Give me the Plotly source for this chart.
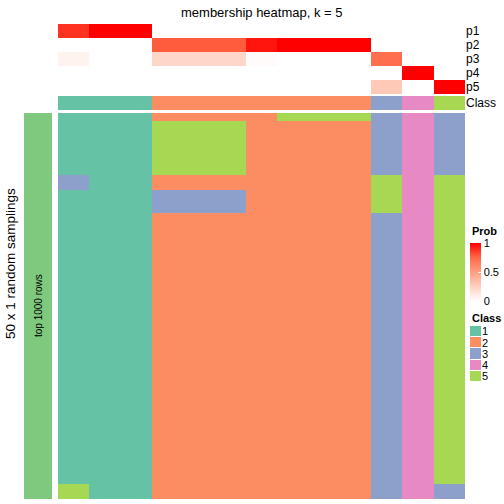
import plotly.graph_objects as go

W = H = 504

# ---------------- data ----------------
columns = [f"s{i}" for i in range(1, 14)]
prob_rows = ["p1", "p2", "p3", "p4", "p5"]
p1 = [0.88, 1, 1, 0, 0, 0, 0, 0, 0, 0, 0, 0, 0]
p2 = [0, 0, 0, 0.78, 0.78, 0.78, 0.95, 1, 1, 1, 0, 0, 0]
p3 = [0.06, 0, 0, 0.21, 0.21, 0.21, 0.02, 0, 0, 0, 0.72, 0, 0]
p4 = [0, 0, 0, 0, 0, 0, 0, 0, 0, 0, 0, 1, 0]
p5 = [0, 0, 0, 0, 0, 0, 0, 0, 0, 0, 0.28, 0, 1]
class_row = [1, 1, 1, 2, 2, 2, 2, 2, 2, 2, 3, 4, 5]

# membership per sampling (50 rows x 13 columns), rows top to bottom
n_rows = 50
sampling_rows = []
for r in range(1, n_rows + 1):
    row = list(class_row)
    row[10] = 3
    row[12] = 5
    if r == 1:
        row[7] = row[8] = row[9] = 5
    if 2 <= r <= 8:
        row[3] = row[4] = row[5] = 5
    if r <= 8:
        row[12] = 3
    if r in (9, 10):
        row[0] = 3
    if 11 <= r <= 13:
        row[3] = row[4] = row[5] = 3
    if 9 <= r <= 13:
        row[10] = 5
    if r >= 49:
        row[0] = 5
        row[12] = 3
    sampling_rows.append(row)

class_labels = ["1", "2", "3", "4", "5"]
class_colors = ["#66C2A5", "#FC8D62", "#8DA0CB", "#E78AC3", "#A6D854"]
prob_ticks = [0, 0.5, 1]

# ---------------- helpers ----------------
def px_x(v):
    return v / W

def px_y(v):
    return 1 - v / H

def discrete_scale(colors):
    n = len(colors)
    sc = []
    for i, c in enumerate(colors):
        sc.append([i / n, c])
        sc.append([(i + 1) / n, c])
    return sc

class_scale = discrete_scale(class_colors)
prob_scale = [[0, "#FFFFFF"], [0.25, "#FFCFBF"], [0.5, "#FF9E81"],
              [0.75, "#FF6846"], [1, "#FF0000"]]

x0, x1 = px_x(58), px_x(465)

fig = go.Figure()

# top probability heatmap
fig.add_trace(go.Heatmap(
    z=[p1, p2, p3, p4, p5], x=columns, y=prob_rows,
    colorscale=prob_scale, zmin=0, zmax=1,
    xaxis="x", yaxis="y",
    colorbar=dict(
        x=px_x(470), xanchor="left", y=px_y(301), yanchor="bottom",
        lenmode="pixels", len=58, thickness=11, thicknessmode="pixels",
        outlinewidth=0, tickvals=prob_ticks, ticktext=["0", "0.5", "1"],
        ticks="inside", ticklen=3, tickcolor="white",
        tickfont=dict(size=11, color="black"), xpad=0, ypad=0),
    hoverinfo="skip"))

# class row
fig.add_trace(go.Heatmap(
    z=[class_row], x=columns, y=["Class"],
    colorscale=class_scale, zmin=0.5, zmax=5.5, showscale=False,
    xaxis="x2", yaxis="y2", hoverinfo="skip"))

# main membership heatmap
fig.add_trace(go.Heatmap(
    z=sampling_rows, x=columns, y=list(range(1, n_rows + 1)),
    colorscale=class_scale, zmin=0.5, zmax=5.5, showscale=False,
    xaxis="x3", yaxis="y3", hoverinfo="skip"))

# left split bar
fig.add_trace(go.Heatmap(
    z=[[1]], x=["top"], y=["top 1000 rows"],
    colorscale=[[0, "#7FC97F"], [1, "#7FC97F"]], showscale=False,
    xaxis="x4", yaxis="y4", hoverinfo="skip"))

# class legend swatches
fig.add_trace(go.Heatmap(
    z=[[1], [2], [3], [4], [5]], x=["c"], y=class_labels,
    colorscale=class_scale, zmin=0.5, zmax=5.5, showscale=False,
    ygap=1, xaxis="x5", yaxis="y5", hoverinfo="skip"))

hidden = dict(showgrid=False, zeroline=False, showticklabels=False, ticks="",
              showline=False, fixedrange=True)

def right_labels(vals, size=12):
    return dict(showgrid=False, zeroline=False, ticks="", showline=False,
                side="right", tickmode="array", tickvals=vals, ticktext=vals,
                tickfont=dict(size=size, color="black"))

fig.update_layout(
    width=W, height=H, margin=dict(l=0, r=0, t=0, b=0, autoexpand=False),
    plot_bgcolor="white", paper_bgcolor="white", showlegend=False,
    font=dict(family="Liberation Sans, Arial, sans-serif", color="black"),
    xaxis=dict(domain=[x0, x1], anchor="y", **hidden),
    yaxis=dict(domain=[px_y(94), px_y(24)], anchor="x", autorange="reversed",
               **right_labels(prob_rows)),
    xaxis2=dict(domain=[x0, x1], anchor="y2", **hidden),
    yaxis2=dict(domain=[px_y(110), px_y(96)], anchor="x2",
                **right_labels(["Class"])),
    xaxis3=dict(domain=[x0, x1], anchor="y3", **hidden),
    yaxis3=dict(domain=[px_y(499), px_y(113)], anchor="x3", autorange="reversed",
                **hidden),
    xaxis4=dict(domain=[px_x(24), px_x(52)], anchor="y4", **hidden),
    yaxis4=dict(domain=[px_y(499), px_y(113)], anchor="x4", **hidden),
    xaxis5=dict(domain=[px_x(470), px_x(481)], anchor="y5", **hidden),
    yaxis5=dict(domain=[px_y(382), px_y(326)], anchor="x5", autorange="reversed",
                **right_labels(class_labels, 11)),
    annotations=[
        dict(text="membership heatmap, k = 5", x=(x0 + x1) / 2, y=px_y(12),
             xref="paper", yref="paper", showarrow=False,
             font=dict(size=13, color="black"), xanchor="center", yanchor="middle"),
        dict(text="top 1000 rows", x=px_x(38), y=px_y(306), xref="paper",
             yref="paper", showarrow=False, textangle=-90,
             font=dict(size=10, color="black"), xanchor="center", yanchor="middle"),
        dict(text="50 x 1 random samplings", x=px_x(10), y=px_y(264), xref="paper",
             yref="paper", showarrow=False, textangle=-90,
             font=dict(size=13.5, color="black"), xanchor="center", yanchor="middle"),
        dict(text="<b>Prob</b>", x=px_x(470), y=px_y(231), xref="paper",
             yref="paper", showarrow=False, font=dict(size=11, color="black"),
             xanchor="left", yanchor="middle"),
        dict(text="<b>Class</b>", x=px_x(470), y=px_y(318), xref="paper",
             yref="paper", showarrow=False, font=dict(size=11, color="black"),
             xanchor="left", yanchor="middle"),
    ],
)

fig.write_html("out.html", config={"displayModeBar": False},
               post_script="document.body.style.margin='0';document.body.style.overflow='hidden';")
